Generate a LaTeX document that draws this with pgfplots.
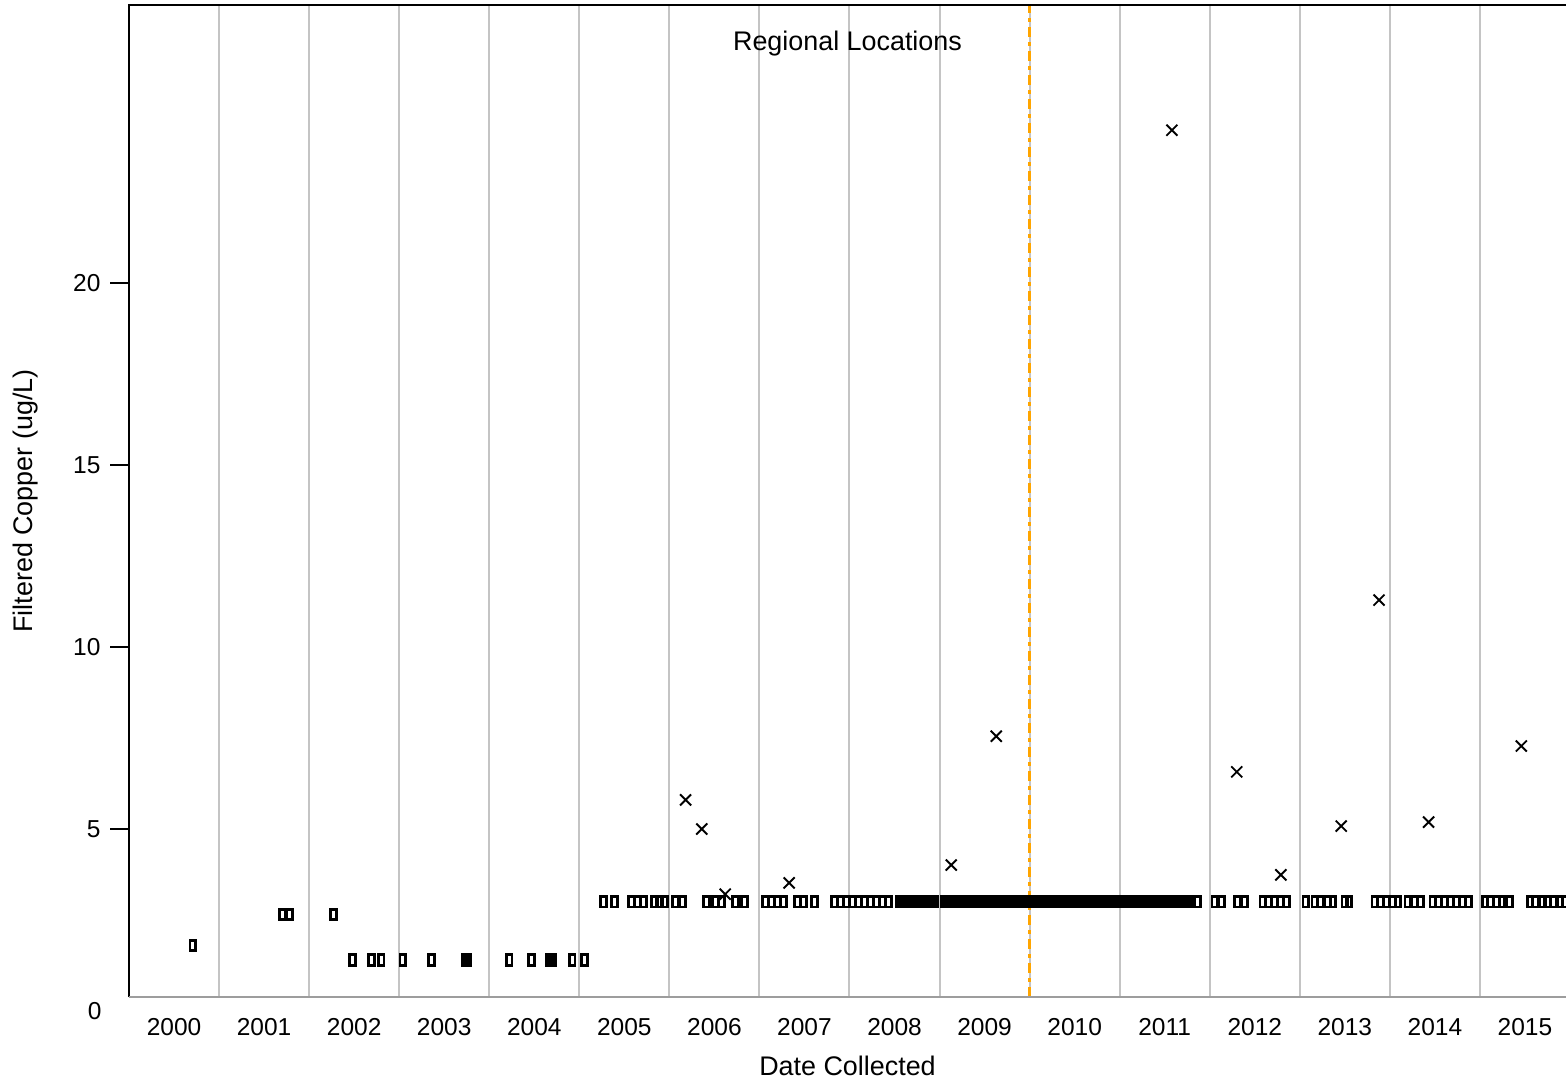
\documentclass[border=0pt]{standalone}
\usepackage{pgfplots}
\pgfplotsset{compat=1.18}
\usepackage{fontspec}
\setmainfont{Liberation Sans}
\definecolor{gridgray}{HTML}{C4C4C4}
\definecolor{refor}{HTML}{FFA500}
\begin{document}
\fontsize{12.3}{14}\selectfont
\begin{tikzpicture}
\path[use as bounding box] (-64.5bp,-45bp) rectangle (718.5bp,498.5bp);
\begin{axis}[
  at={(0,0)}, anchor=south west,
  scale only axis, width=718.5bp, height=496bp,
  xmin=2000, xmax=2015.956, ymin=0.385, ymax=27.64,
  clip=false,
  axis line style={draw=none},
  xtick={2000.5,2001.5,2002.5,2003.5,2004.5,2005.5,2006.5,2007.5,2008.5,2009.5,2010.5,2011.5,2012.5,2013.5,2014.5,2015.5},
  xticklabels={2000,2001,2002,2003,2004,2005,2006,2007,2008,2009,2010,2011,2012,2013,2014,2015},
  minor xtick={2000,2001,2002,2003,2004,2005,2006,2007,2008,2009,2010,2011,2012,2013,2014,2015},
  xminorgrids=true,
  minor grid style={gridgray, line width=1bp},
  xtick style={draw=none},
  minor tick length=0pt,
  ytick={5,10,15,20},
  ytick pos=left,
  tick align=outside,
  ytick style={black, line width=0.6bp},
  major tick length=9.5bp,
  yticklabel style={xshift=-0.5bp},
  xticklabel style={yshift=3bp},
  /pgf/number format/assume math mode=true,
  tick label style={font=\fontsize{12.3}{14}\selectfont},
  xlabel={Date Collected},
  ylabel={Filtered Copper (ug/L)},
  label style={font=\fontsize{13.5}{15}\selectfont},
  xlabel style={yshift=-1.5bp},
  ylabel style={yshift=9bp},
]
\draw[refor, line width=1.2bp, dash pattern=on 5bp off 2.5bp on 2bp off 2.5bp] (axis cs:2010,0.385) -- (axis cs:2010,27.64);
\addplot[only marks, mark=square, mark size=2.6bp, line width=1.4bp, mark options={xscale=0.55, line width=1.4bp, black, solid}] coordinates {
(2000.71,1.8)
(2001.70,2.65)(2001.78,2.65)(2002.27,2.65)
(2002.48,1.4)(2002.69,1.4)(2002.80,1.4)(2003.04,1.4)(2003.36,1.4)(2003.73,1.4)(2003.76,1.4)
(2004.22,1.4)(2004.47,1.4)(2004.67,1.4)(2004.70,1.4)(2004.92,1.4)(2005.06,1.4)
(2005.267,3)(2005.389,3)(2005.578,3)(2005.644,3)(2005.711,3)(2005.833,3)(2005.889,3)(2005.944,3)
(2006.067,3)(2006.144,3)(2006.411,3)(2006.511,3)(2006.578,3)(2006.733,3)(2006.833,3)
(2007.067,3)(2007.133,3)(2007.200,3)(2007.267,3)(2007.422,3)(2007.489,3)(2007.611,3)
(2007.833,3)(2007.900,3)(2007.967,3)(2008.033,3)(2008.100,3)(2008.167,3)(2008.233,3)(2008.300,3)(2008.367,3)(2008.433,3)
(2008.556,3)(2008.611,3)(2008.667,3)(2008.722,3)(2008.778,3)(2008.833,3)(2008.889,3)(2008.944,3)
(2009.056,3)(2009.111,3)(2009.167,3)(2009.222,3)(2009.278,3)(2009.333,3)(2009.389,3)(2009.444,3)(2009.500,3)
(2009.556,3)(2009.611,3)(2009.667,3)(2009.722,3)(2009.778,3)(2009.833,3)(2009.889,3)(2009.944,3)
(2010.000,3)(2010.056,3)(2010.111,3)(2010.167,3)(2010.222,3)(2010.278,3)(2010.333,3)(2010.389,3)(2010.444,3)(2010.500,3)
(2010.556,3)(2010.611,3)(2010.667,3)(2010.722,3)(2010.778,3)(2010.833,3)(2010.889,3)(2010.944,3)
(2011.000,3)(2011.056,3)(2011.111,3)(2011.167,3)(2011.222,3)(2011.278,3)(2011.333,3)(2011.389,3)(2011.444,3)(2011.500,3)
(2011.556,3)(2011.611,3)(2011.667,3)(2011.722,3)(2011.778,3)(2011.867,3)
(2008.583,3)(2008.639,3)(2008.694,3)(2008.750,3)(2008.806,3)(2008.861,3)(2008.917,3)
(2009.083,3)(2009.139,3)(2009.194,3)(2009.250,3)(2009.306,3)(2009.361,3)(2009.417,3)(2009.472,3)(2009.528,3)
(2009.583,3)(2009.639,3)(2009.694,3)(2009.750,3)(2009.806,3)(2009.861,3)(2009.917,3)(2009.972,3)
(2010.028,3)(2010.083,3)(2010.139,3)(2010.194,3)(2010.250,3)(2010.306,3)(2010.361,3)(2010.417,3)(2010.472,3)(2010.528,3)
(2010.583,3)(2010.639,3)(2010.694,3)(2010.750,3)(2010.806,3)(2010.861,3)(2010.917,3)(2010.972,3)
(2011.028,3)(2011.083,3)(2011.139,3)(2011.194,3)(2011.250,3)(2011.306,3)(2011.361,3)(2011.417,3)(2011.472,3)(2011.528,3)
(2011.583,3)(2011.639,3)(2011.694,3)(2011.750,3)
(2012.056,3)(2012.133,3)(2012.311,3)(2012.389,3)(2012.589,3)(2012.656,3)(2012.722,3)(2012.789,3)(2012.856,3)
(2013.067,3)(2013.167,3)(2013.233,3)(2013.311,3)(2013.367,3)(2013.500,3)(2013.544,3)
(2013.833,3)(2013.900,3)(2013.967,3)(2014.033,3)
(2014.089,3)(2014.200,3)(2014.278,3)(2014.344,3)(2014.478,3)(2014.544,3)(2014.611,3)(2014.678,3)(2014.744,3)(2014.811,3)(2014.878,3)
(2015.056,3)(2015.122,3)(2015.189,3)(2015.244,3)(2015.333,3)
(2015.556,3)(2015.622,3)(2015.689,3)(2015.756,3)(2015.822,3)(2015.889,3)(2015.944,3)
};
\addplot[only marks, mark=x, mark size=3.9bp, mark options={line width=0.95bp, black}] coordinates {
(2006.18,5.80)(2006.36,5.0)(2006.62,3.21)(2007.33,3.52)(2009.13,4.01)(2009.63,7.55)
(2011.58,24.2)(2012.30,6.57)(2012.79,3.74)(2013.46,5.08)(2013.88,11.29)(2014.43,5.19)(2015.46,7.28)
};
\draw[black, line width=1bp] (rel axis cs:0,0) -- (rel axis cs:0,1) -- (rel axis cs:1,1);
\draw[gridgray!80!black, line width=1bp] (rel axis cs:0,0) -- (rel axis cs:1,0);
\node[below, font=\fontsize{13.5}{15}\selectfont] at (rel axis cs:0.5,1) [yshift=-8.5bp] {Regional Locations};
\node[anchor=east] at (axis cs:2000,0) [xshift=-9.5bp] {0};
\end{axis}
\end{tikzpicture}
\end{document}
